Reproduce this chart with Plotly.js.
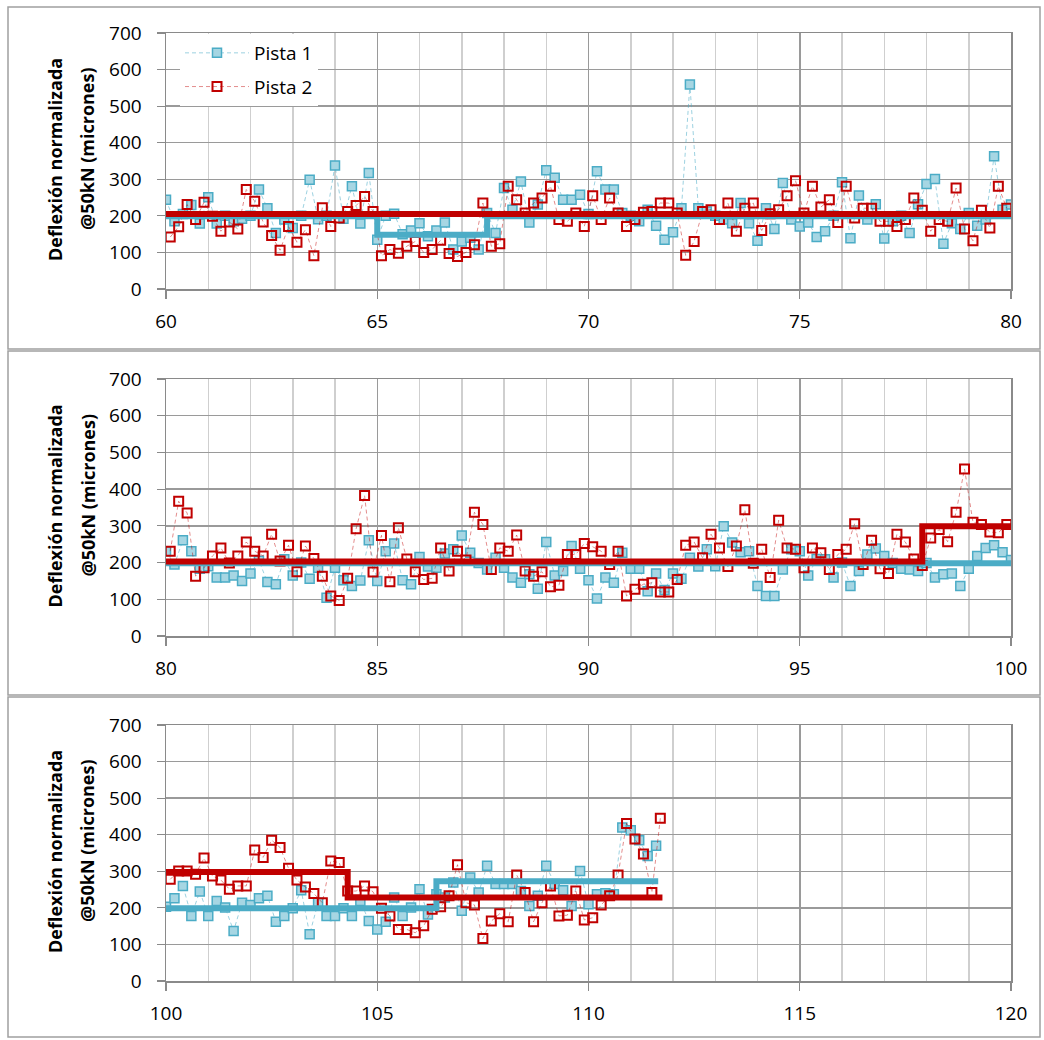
<!DOCTYPE html>
<html>
<head>
<meta charset="utf-8">
<script src="https://cdn.plot.ly/plotly-3.0.1.min.js"></script>
<style>
  html, body { margin: 0; padding: 0; background: #ffffff; }
  #chart { width: 1044px; height: 1040px; }
</style>
</head>
<body>
<div id="chart"></div>
<script>
// ---------------- DATA ----------------
const seriesNames = ["Pista 1", "Pista 2"];
const yTitleLine1 = "Deflexión normalizada";
const yTitleLine2 = "@50kN (micrones)";
const panelRanges = [[60, 80], [80, 100], [100, 120]];

// Panel 1 (km 60-80)
const p1Pista1Km = [60,60.2,60.4,60.6,60.8,61,61.2,61.4,61.6,61.8,62,62.2,62.4,62.6,62.8,63,63.2,63.4,63.6,63.8,64,64.2,64.4,64.6,64.8,65,65.2,65.4,65.6,65.8,66,66.2,66.4,66.6,66.8,67,67.2,67.4,67.6,67.8,68,68.2,68.4,68.6,68.8,69,69.2,69.4,69.6,69.8,70,70.2,70.4,70.6,70.8,71,71.2,71.4,71.6,71.8,72,72.2,72.4,72.6,72.8,73,73.2,73.4,73.6,73.8,74,74.2,74.4,74.6,74.8,75,75.2,75.4,75.6,75.8,76,76.2,76.4,76.6,76.8,77,77.2,77.4,77.6,77.8,78,78.2,78.4,78.6,78.8,79,79.2,79.4,79.6,79.8,80];
const p1Pista1Val = [244,185,205,230,179,251,179,200,185,192,
  200,272,221,153,190,167,200,299,191,200,
  338,192,281,179,317,135,200,206,150,160,
  180,144,160,182,108,130,140,108,208,153,
  276,217,294,182,231,325,304,244,244,258,
  205,322,272,272,208,200,185,217,173,135,
  155,221,559,221,212,200,190,180,235,180,
  132,221,164,290,190,171,182,142,158,200,
  292,139,256,190,232,138,185,200,153,232,
  287,301,124,180,164,208,173,190,363,217,
  231];
const p1Pista2Km = [60.1,60.3,60.5,60.7,60.9,61.1,61.3,61.5,61.7,61.9,62.1,62.3,62.5,62.7,62.9,63.1,63.3,63.5,63.7,63.9,64.1,64.3,64.5,64.7,64.9,65.1,65.3,65.5,65.7,65.9,66.1,66.3,66.5,66.7,66.9,67.1,67.3,67.5,67.7,67.9,68.1,68.3,68.5,68.7,68.9,69.1,69.3,69.5,69.7,69.9,70.1,70.3,70.5,70.7,70.9,71.1,71.3,71.5,71.7,71.9,72.1,72.3,72.5,72.7,72.9,73.1,73.3,73.5,73.7,73.9,74.1,74.3,74.5,74.7,74.9,75.1,75.3,75.5,75.7,75.9,76.1,76.3,76.5,76.7,76.9,77.1,77.3,77.5,77.7,77.9,78.1,78.3,78.5,78.7,78.9,79.1,79.3,79.5,79.7,79.9];
const p1Pista2Val = [142,170,231,190,237,199,158,183,164,272,
  240,183,146,106,171,128,162,91,222,171,
  194,212,228,253,212,91,108,98,117,130,
  100,108,133,97,89,100,121,235,117,124,
  281,244,208,235,249,281,190,185,208,171,
  255,190,249,208,171,190,210,212,235,235,
  208,92,130,212,217,190,235,158,221,235,
  160,206,217,255,296,208,281,224,244,182,
  281,194,221,221,185,185,171,190,249,215,
  158,190,185,276,164,132,215,167,281,221];
const p1Pista1StepKm = [60, 65, 67.6, 80];
const p1Pista1StepVal = [199, 148, 199, 199];
const p1Pista2StepKm = [60, 80];
const p1Pista2StepVal = [205, 205];

// Panel 2 (km 80-100)
const p2Pista1Km = [80,80.2,80.4,80.6,80.8,81,81.2,81.4,81.6,81.8,82,82.2,82.4,82.6,82.8,83,83.2,83.4,83.6,83.8,84,84.2,84.4,84.6,84.8,85,85.2,85.4,85.6,85.8,86,86.2,86.4,86.6,86.8,87,87.2,87.4,87.6,87.8,88,88.2,88.4,88.6,88.8,89,89.2,89.4,89.6,89.8,90,90.2,90.4,90.6,90.8,91,91.2,91.4,91.6,91.8,92,92.2,92.4,92.6,92.8,93,93.2,93.4,93.6,93.8,94,94.2,94.4,94.6,94.8,95,95.2,95.4,95.6,95.8,96,96.2,96.4,96.6,96.8,97,97.2,97.4,97.6,97.8,98,98.2,98.4,98.6,98.8,99,99.2,99.4,99.6,99.8,100];
const p2Pista1Val = [231,195,261,231,183,190,159,159,165,150,
  170,205,147,141,209,165,200,156,186,104,
  186,152,136,151,261,150,231,252,152,141,
  215,189,186,225,236,274,227,199,181,213,
  186,159,145,168,129,256,165,177,245,183,
  152,102,159,145,227,183,183,122,170,125,
  170,156,213,189,236,190,299,255,228,231,
  136,109,109,181,236,231,165,210,209,159,
  200,136,177,222,238,218,199,183,181,177,
  199,159,168,170,136,183,218,240,247,228,
  207];
const p2Pista2Km = [80.1,80.3,80.5,80.7,80.9,81.1,81.3,81.5,81.7,81.9,82.1,82.3,82.5,82.7,82.9,83.1,83.3,83.5,83.7,83.9,84.1,84.3,84.5,84.7,84.9,85.1,85.3,85.5,85.7,85.9,86.1,86.3,86.5,86.7,86.9,87.1,87.3,87.5,87.7,87.9,88.1,88.3,88.5,88.7,88.9,89.1,89.3,89.5,89.7,89.9,90.1,90.3,90.5,90.7,90.9,91.1,91.3,91.5,91.7,91.9,92.1,92.3,92.5,92.7,92.9,93.1,93.3,93.5,93.7,93.9,94.1,94.3,94.5,94.7,94.9,95.1,95.3,95.5,95.7,95.9,96.1,96.3,96.5,96.7,96.9,97.1,97.3,97.5,97.7,97.9,98.1,98.3,98.5,98.7,98.9,99.1,99.3,99.5,99.7,99.9];
const p2Pista2Val = [231,367,335,163,186,218,240,199,218,256,
  231,218,277,204,247,175,245,211,163,109,
  97,157,292,383,174,274,148,295,210,175,
  154,157,240,177,231,207,337,304,181,240,
  231,275,177,163,175,134,138,222,222,252,
  243,231,195,231,109,127,141,145,120,120,
  154,247,256,213,277,240,189,245,344,198,
  236,159,315,240,236,186,240,227,181,222,
  236,306,195,261,183,170,277,256,210,192,
  267,290,257,337,455,310,304,283,281,304];
const p2Pista1StepKm = [80, 100];
const p2Pista1StepVal = [198, 198];
const p2Pista2StepKm = [80, 97.9, 100];
const p2Pista2StepVal = [203, 299, 299];

// Panel 3 (km 100-120)
const p3Pista1Km = [100,100.2,100.4,100.6,100.8,101,101.2,101.4,101.6,101.8,102,102.2,102.4,102.6,102.8,103,103.2,103.4,103.6,103.8,104,104.2,104.4,104.6,104.8,105,105.2,105.4,105.6,105.8,106,106.2,106.4,106.6,106.8,107,107.2,107.4,107.6,107.8,108,108.2,108.4,108.6,108.8,109,109.2,109.4,109.6,109.8,110,110.2,110.4,110.6,110.8,111,111.2,111.4,111.6];
const p3Pista1Val = [203,226,260,178,245,178,219,201,137,214,
  208,226,233,162,178,199,248,128,214,178,
  178,199,178,219,164,141,162,228,178,201,
  251,182,237,228,269,192,283,242,315,265,
  265,265,246,205,233,315,265,248,205,301,
  210,237,240,237,420,412,385,342,370];
const p3Pista2Km = [100.1,100.3,100.5,100.7,100.9,101.1,101.3,101.5,101.7,101.9,102.1,102.3,102.5,102.7,102.9,103.1,103.3,103.5,103.7,103.9,104.1,104.3,104.5,104.7,104.9,105.1,105.3,105.5,105.7,105.9,106.1,106.3,106.5,106.7,106.9,107.1,107.3,107.5,107.7,107.9,108.1,108.3,108.5,108.7,108.9,109.1,109.3,109.5,109.7,109.9,110.1,110.3,110.5,110.7,110.9,111.1,111.3,111.5,111.7];
const p3Pista2Val = [278,301,301,292,336,287,276,251,260,260,
  358,338,385,365,308,276,257,239,214,328,
  324,246,246,260,244,199,178,141,141,132,
  151,196,203,233,318,214,208,116,164,184,
  162,290,242,162,214,260,178,180,246,167,
  173,208,233,290,431,388,347,242,445];
const p3Pista1StepKm = [100, 106.4, 111.65];
const p3Pista1StepVal = [199, 273, 273];
const p3Pista2StepKm = [100, 104.3, 111.75];
const p3Pista2StepVal = [298, 228, 228];

// ---------------- STYLE / LAYOUT ----------------
const BLUE = "#4bacc6", BLUE_FILL = "#a6d6e3", RED = "#c00000";
const FONT = "Open Sans, Noto Sans, sans-serif";
const W = 1044, H = 1040;
const plotX = [166, 1011];
const plotY = [[33, 289], [379, 636], [725, 981]];
const boxes = [[8, 7, 1040, 349], [8, 351, 1040, 695], [8, 697, 1040, 1037]];

const panels = [
  {b1k: p1Pista1Km, b1v: p1Pista1Val, r2k: p1Pista2Km, r2v: p1Pista2Val, bsk: p1Pista1StepKm, bsv: p1Pista1StepVal, rsk: p1Pista2StepKm, rsv: p1Pista2StepVal},
  {b1k: p2Pista1Km, b1v: p2Pista1Val, r2k: p2Pista2Km, r2v: p2Pista2Val, bsk: p2Pista1StepKm, bsv: p2Pista1StepVal, rsk: p2Pista2StepKm, rsv: p2Pista2StepVal},
  {b1k: p3Pista1Km, b1v: p3Pista1Val, r2k: p3Pista2Km, r2v: p3Pista2Val, bsk: p3Pista1StepKm, bsv: p3Pista1StepVal, rsk: p3Pista2StepKm, rsv: p3Pista2StepVal}
];

const traces = [];
panels.forEach((p, i) => {
  const xa = i === 0 ? "x" : "x" + (i + 1);
  const ya = i === 0 ? "y" : "y" + (i + 1);
  traces.push({
    x: p.b1k, y: p.b1v, xaxis: xa, yaxis: ya, type: "scatter", mode: "lines+markers",
    name: seriesNames[0], legendgroup: "g1", showlegend: i === 0,
    line: {color: "rgba(75,172,198,0.55)", width: 1, dash: "4px,3px"},
    marker: {symbol: "square", size: 9, color: BLUE_FILL, line: {color: BLUE, width: 1.5}}
  });
  traces.push({
    x: p.r2k, y: p.r2v, xaxis: xa, yaxis: ya, type: "scatter", mode: "lines+markers",
    name: seriesNames[1], legendgroup: "g2", showlegend: i === 0,
    line: {color: "rgba(192,0,0,0.45)", width: 1, dash: "4px,3px"},
    marker: {symbol: "square-open", size: 9, color: RED, line: {color: RED, width: 2}}
  });
  traces.push({
    x: p.bsk, y: p.bsv, xaxis: xa, yaxis: ya, type: "scatter", mode: "lines",
    showlegend: false, hoverinfo: "skip",
    line: {color: BLUE, width: 6, shape: "hv"}
  });
  traces.push({
    x: p.rsk, y: p.rsv, xaxis: xa, yaxis: ya, type: "scatter", mode: "lines",
    showlegend: false, hoverinfo: "skip",
    line: {color: RED, width: 6, shape: "hv"}
  });
});

const layout = {
  width: W, height: H,
  margin: {l: 0, r: 0, t: 0, b: 0},
  paper_bgcolor: "#ffffff", plot_bgcolor: "#ffffff",
  font: {family: FONT, size: 19, color: "#000000"},
  showlegend: true,
  legend: {
    x: 180 / W, y: 1 - 34 / H, xanchor: "left", yanchor: "top",
    bgcolor: "#ffffff", borderwidth: 0,
    itemwidth: 64,
    font: {family: FONT, size: 19, color: "#000000"},
    traceorder: "grouped", tracegroupgap: 6
  },
  shapes: [],
  annotations: []
};

panels.forEach((p, i) => {
  const suf = i === 0 ? "" : String(i + 1);
  const yTop = plotY[i][0], yBot = plotY[i][1];
  layout["xaxis" + suf] = {
    domain: [plotX[0] / W, plotX[1] / W],
    anchor: "y" + suf,
    range: panelRanges[i], tick0: panelRanges[i][0], dtick: 5,
    showgrid: true, gridcolor: "#9a9a9a", gridwidth: 1.5,
    minor: {dtick: 1, showgrid: true, gridcolor: "#cfcfcf", gridwidth: 1.5, ticks: ""},
    zeroline: false, showline: true, linecolor: "#8a8a8a", linewidth: 1.5, mirror: true,
    ticks: "outside", ticklen: 8, tickwidth: 1.2, tickcolor: "#8a8a8a",
    ticklabelstandoff: 7,
    tickfont: {family: FONT, size: 19, color: "#000000"},
    fixedrange: true
  };
  layout["yaxis" + suf] = {
    domain: [1 - yBot / H, 1 - yTop / H],
    anchor: "x" + suf,
    range: [0, 700], dtick: 100,
    showgrid: true, gridcolor: "#9a9a9a", gridwidth: 1.5,
    zeroline: false, showline: true, linecolor: "#8a8a8a", linewidth: 1.5, mirror: true,
    ticks: "outside", ticklen: 8, tickwidth: 1.2, tickcolor: "#8a8a8a",
    ticklabelstandoff: 11,
    tickfont: {family: FONT, size: 19, color: "#000000"},
    fixedrange: true
  };
  const b = boxes[i];
  layout.shapes.push({
    type: "rect", xref: "paper", yref: "paper",
    x0: b[0] / W, x1: b[2] / W, y0: 1 - b[3] / H, y1: 1 - b[1] / H,
    line: {color: "#a0a0a0", width: 1.5}, fillcolor: "rgba(0,0,0,0)", layer: "below"
  });
  const cy = (yTop + yBot) / 2;
  layout.annotations.push({
    xref: "paper", yref: "paper", x: 55 / W, y: 1 - (cy - 1) / H,
    xanchor: "center", yanchor: "middle", textangle: -90, showarrow: false,
    text: "<b>" + yTitleLine1 + "</b>",
    font: {family: FONT, size: 18, color: "#000000"}
  });
  layout.annotations.push({
    xref: "paper", yref: "paper", x: 87 / W, y: 1 - (cy - 12) / H,
    xanchor: "center", yanchor: "middle", textangle: -90, showarrow: false,
    text: "<b>" + yTitleLine2 + "</b>",
    font: {family: FONT, size: 18, color: "#000000"}
  });
});

Plotly.newPlot("chart", traces, layout, {staticPlot: true, displayModeBar: false});
</script>
</body>
</html>
